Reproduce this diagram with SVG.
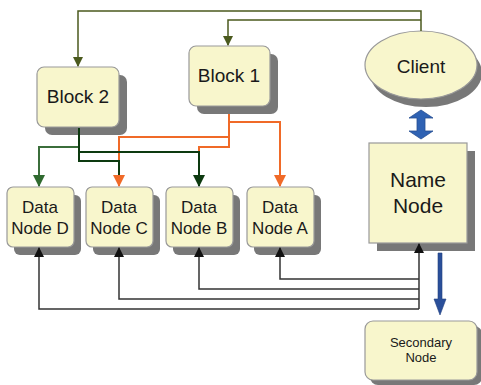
<svg xmlns="http://www.w3.org/2000/svg" width="481" height="385" viewBox="0 0 481 385">
<defs>
<style>
.box{fill:#f8f6cc;stroke:#999;stroke-width:1.2}
.sh{fill:#787878}
.t{font-family:"Liberation Sans",Arial,sans-serif;fill:#1a1a1a;text-anchor:middle}
.ol{fill:none;stroke:#4b5a1e;stroke-width:1.5}
.or{fill:none;stroke:#f06a28;stroke-width:2}
.gr{fill:none;stroke:#3b6e3b;stroke-width:2}
.dg{fill:none;stroke:#0d3a10;stroke-width:2}
.bk{fill:none;stroke:#333;stroke-width:1.5}
</style>
<marker id="aol" markerWidth="10" markerHeight="10" refX="9" refY="5" orient="auto" markerUnits="userSpaceOnUse"><path d="M0,0 L10,5 L0,10 z" fill="#4b5a1e"/></marker>
<marker id="aor" markerWidth="12" markerHeight="12" refX="11" refY="6" orient="auto" markerUnits="userSpaceOnUse"><path d="M0,0 L12,6 L0,12 z" fill="#f06a28"/></marker>
<marker id="agr" markerWidth="12" markerHeight="12" refX="11" refY="6" orient="auto" markerUnits="userSpaceOnUse"><path d="M0,0 L12,6 L0,12 z" fill="#2f6a2f"/></marker>
<marker id="adg" markerWidth="12" markerHeight="12" refX="11" refY="6" orient="auto" markerUnits="userSpaceOnUse"><path d="M0,0 L12,6 L0,12 z" fill="#0d3a10"/></marker>
<marker id="abk" markerWidth="10" markerHeight="10" refX="9" refY="5" orient="auto" markerUnits="userSpaceOnUse"><path d="M0,0 L10,5 L0,10 z" fill="#111"/></marker>
</defs>

<g id="block2">
<rect class="sh" x="45" y="75" width="82" height="60" rx="7"/>
<rect class="box" x="37" y="67" width="82" height="60" rx="7"/>
<text class="t" x="78" y="103" font-size="19">Block 2</text>
</g>

<g id="block1">
<rect class="sh" x="197" y="54" width="81" height="60" rx="7"/>
<rect class="box" x="189" y="46" width="81" height="60" rx="7"/>
<text class="t" x="229" y="82" font-size="19">Block 1</text>
</g>

<g id="client">
<ellipse class="sh" cx="426" cy="73" rx="56" ry="34"/>
<ellipse class="box" cx="421" cy="65" rx="56" ry="34"/>
<text class="t" x="421" y="73" font-size="19">Client</text>
</g>

<g id="namenode">
<rect class="sh" x="377" y="151" width="98" height="100"/>
<rect class="box" x="369" y="143" width="98" height="100"/>
<text class="t" x="418" y="187" font-size="21">Name</text>
<text class="t" x="418" y="213" font-size="21">Node</text>
</g>

<g id="datanodeD">
<rect class="sh" x="14" y="195" width="67" height="60" rx="6"/>
<rect class="box" x="7" y="187" width="67" height="60" rx="6"/>
<text class="t" x="40" y="213" font-size="17">Data</text>
<text class="t" x="40" y="234" font-size="17">Node D</text>
</g>

<g id="datanodeC">
<rect class="sh" x="93" y="195" width="67" height="60" rx="6"/>
<rect class="box" x="86" y="187" width="67" height="60" rx="6"/>
<text class="t" x="119" y="213" font-size="17">Data</text>
<text class="t" x="119" y="234" font-size="17">Node C</text>
</g>

<g id="datanodeB">
<rect class="sh" x="173" y="195" width="67" height="60" rx="6"/>
<rect class="box" x="166" y="187" width="67" height="60" rx="6"/>
<text class="t" x="199" y="213" font-size="17">Data</text>
<text class="t" x="199" y="234" font-size="17">Node B</text>
</g>

<g id="datanodeA">
<rect class="sh" x="254" y="195" width="67" height="60" rx="6"/>
<rect class="box" x="247" y="187" width="67" height="60" rx="6"/>
<text class="t" x="280" y="213" font-size="17">Data</text>
<text class="t" x="280" y="234" font-size="17">Node A</text>
</g>

<g id="secondary">
<rect class="sh" x="370" y="326" width="112" height="59" rx="8"/>
<rect class="box" x="365" y="321" width="112" height="59" rx="8"/>
<text class="t" x="421" y="347" font-size="13">Secondary</text>
<text class="t" x="421" y="362" font-size="13">Node</text>
</g>

<g id="connectors">
<path class="ol" d="M421,31 V11 H78 V66" marker-end="url(#aol)"/>
<path class="ol" d="M421,20 H228 V45" marker-end="url(#aol)"/>
<path class="or" d="M229,114 V122 H280 V186" marker-end="url(#aor)"/>
<path class="or" d="M229,114 V137 H119 V186" marker-end="url(#aor)"/>
<path class="or" d="M229,114 V147 H199 V152"/>
<path class="gr" d="M79,128 V147 H39 V186" marker-end="url(#agr)"/>
<path class="dg" d="M79,128 V152 H199 V186" marker-end="url(#adg)"/>
<path class="dg" d="M79,128 V161 H119 V175"/>
<path class="bk" d="M419,309 V244" marker-end="url(#abk)"/>
<path class="bk" d="M419,279 H280 V248" marker-end="url(#abk)"/>
<path class="bk" d="M419,289 H199 V248" marker-end="url(#abk)"/>
<path class="bk" d="M419,299 H119 V248" marker-end="url(#abk)"/>
<path class="bk" d="M419,309 H39 V248" marker-end="url(#abk)"/>
<path d="M421,110 L433,118 L425,118 L425,131 L433,131 L421,139 L409,131 L417,131 L417,118 L409,118 Z" fill="#2f62b3" stroke="#274f92" stroke-width="0.8"/>
<path d="M438,253 H442 V299 H446 L440,315 L434,299 H438 Z" fill="#2a4f9a" stroke="#22407e" stroke-width="0.6"/>
</g>
</svg>
